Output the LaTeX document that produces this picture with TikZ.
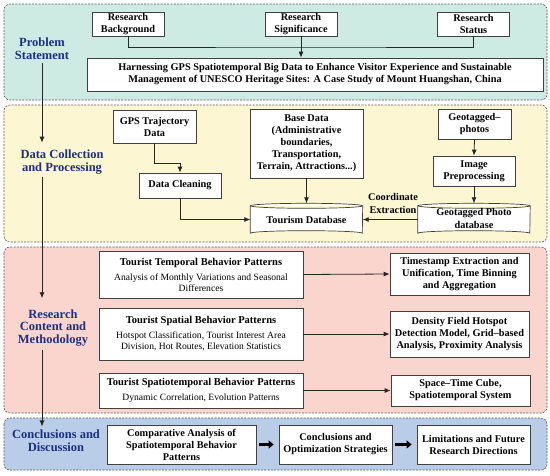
\documentclass[tikz,border=0pt]{standalone}
\usepackage{fontspec}
\setmainfont{Liberation Serif}
\usetikzlibrary{arrows.meta,calc}
\definecolor{tealbg}{RGB}{205,235,227}
\definecolor{yelbg}{RGB}{253,246,210}
\definecolor{pinkbg}{RGB}{250,213,205}
\definecolor{bluebg}{RGB}{186,205,232}
\definecolor{navy}{RGB}{28,48,128}
\pgfdeclarelayer{panels}
\pgfdeclarelayer{cyl}
\pgfsetlayers{panels,cyl,main}
\newcommand\dbcyl[1]{%
  \begin{pgfonlayer}{cyl}
  \draw[cylline] (#1.north west) -- (#1.south west)
     arc[start angle=180,end angle=0,x radius=56pt,y radius=2.5pt]
     -- (#1.north east)
     arc[start angle=0,end angle=-180,x radius=56pt,y radius=2.5pt] -- cycle;
  \draw[cylline] (#1.north west)
     arc[start angle=180,end angle=0,x radius=56pt,y radius=2.5pt];
  \end{pgfonlayer}}
\begin{document}
\begin{tikzpicture}[x=1pt,y=-1pt,
  panel/.style={draw=black!65, dash pattern=on 2pt off 1.3pt, line width=0.6pt, rounded corners=6pt},
  box/.style={draw=black!75, fill=white, line width=0.7pt, align=center, inner sep=1pt,
     font=\fontsize{10.3}{12}\selectfont\bfseries},
  pbox/.style={draw=black!75, fill=white, line width=0.7pt, align=center, inner sep=1pt,
     font=\fontsize{9.6}{11}\selectfont, minimum width=204pt},
  dbtext/.style={align=center, inner sep=0pt, minimum width=112pt, minimum height=27pt,
     font=\fontsize{10.3}{12.5}\selectfont\bfseries},
  cylline/.style={draw=black!75, fill=white, line width=0.7pt},
  lbl/.style={text=navy, font=\fontsize{12.5}{12.8}\selectfont\bfseries, align=center, inner sep=3pt},
  plain/.style={font=\fontsize{10.3}{12.8}\selectfont\bfseries, align=center, inner sep=1pt},
  ln/.style={line width=0.8pt, draw=black!85},
  arr/.style={ln, -{Latex[length=6pt,width=5pt]}},
  fat/.style={line width=3pt, draw=black, -{Triangle[length=5pt,width=8pt]}, shorten <=3pt, shorten >=5pt}
]
\useasboundingbox (0,0) rectangle (550,475);
\begin{pgfonlayer}{panels}
\draw[panel, fill=tealbg] (4,4) rectangle (547,100);
\draw[panel, fill=yelbg] (4,105) rectangle (547,242);
\draw[panel, fill=pinkbg] (4,247) rectangle (547,413);
\draw[panel, fill=bluebg] (4,418) rectangle (547,470);
\end{pgfonlayer}

% left labels
\node[lbl] (ps) at (42,49) {Problem\\Statement};
\node[lbl] (dc) at (62,162) {Data Collection\\and Processing};
\node[lbl] (rc) at (53,328) {Research\\Content and\\Methodology};
\node[lbl] (cd) at (56,440.5) {Conclusions and\\Discussion};
\draw[arr, shorten >=4pt] (ps.south) -- (dc.north -| ps.south);
\draw[arr, shorten >=8pt] (dc.south -| ps.south) -- (rc.north -| ps.south);
\draw[arr] (rc.south -| ps.south) -- (cd.north -| ps.south);

% problem statement
\node[box, minimum width=72pt, minimum height=24pt] (rb) at (128,24) {Research\\Background};
\node[box, minimum width=72pt, minimum height=24pt] (rs) at (301,24) {Research\\Significance};
\node[box, minimum width=72pt, minimum height=24pt] (rst) at (473.5,24) {Research\\Status};
\node[box, minimum width=456pt, minimum height=33pt] (main) at (315,74.5)
  {Harnessing GPS Spatiotemporal Big Data to Enhance Visitor Experience and Sustainable\\
   Management of UNESCO Heritage Sites: A Case Study of Mount Huangshan, China};
\coordinate (jn) at ($(rs.south)!0.5!(rs.south |- main.north)$);
\draw[ln] (rb.south) |- (jn) -| (rst.south);
\draw[arr] (rs.south) -- (rs.south |- main.north);

% data collection
\node[box, minimum width=83pt, minimum height=33pt] (gps) at (154.5,126.5) {GPS Trajectory\\Data};
\node[box, minimum width=82pt, minimum height=25pt] (dcl) at (180,185.5) {Data Cleaning};
\node[box, minimum width=113pt, minimum height=69pt] (base) at (306.5,143.5)
  {Base Data\\(Administrative\\boundaries,\\Transportation,\\Terrain, Attractions...)};
\node[box, minimum width=73pt, minimum height=30pt] (geo) at (474.5,124) {Geotagged–\\photos};
\node[box, minimum width=82pt, minimum height=30pt] (img) at (474,171) {Image\\Preprocessing};
\node[dbtext] (tdb) at (306.5,219.5) {Tourism Database};
\dbcyl{tdb}
\node[dbtext] (gdb) at (474,219.5)
  {\raisebox{-2.5pt}{\begin{tabular}{@{}c@{}}Geotagged Photo\\database\end{tabular}}};
\dbcyl{gdb}
\node[plain] (ce) at (393,203.5) {Coordinate\\Extraction};
\draw[arr] (gps.south) -- ++(0,20) -| (dcl.north);
\draw[arr] (dcl.south) |- (tdb.west);
\draw[arr] (base.south) -- ([yshift=2.5pt]tdb.north);
\draw[arr] (geo.south) -- (img.north);
\draw[arr] (img.south) -- ([yshift=2.5pt]gdb.north);
\draw[arr] (gdb.west) -- (tdb.east);

% research content
\node[pbox, minimum height=47pt] (tt) at (201,274.5)
  {\textbf{\fontsize{10.5}{12}\selectfont Tourist Temporal Behavior Patterns}\\[4pt]Analysis of Monthly Variations and Seasonal\\Differences};
\node[pbox, minimum height=52pt] (sp) at (201,334)
  {\textbf{\fontsize{10.5}{12}\selectfont Tourist Spatial Behavior Patterns}\\[4pt]Hotspot Classification, Tourist Interest Area\\Division, Hot Routes, Elevation Statistics};
\node[pbox, minimum height=35pt] (st) at (201,390.5)
  {\textbf{\fontsize{10.5}{12}\selectfont Tourist Spatiotemporal Behavior Patterns}\\[4pt]Dynamic Correlation, Evolution Patterns};
\node[box, minimum width=139pt, minimum height=42pt] (ts) at (459.5,274)
  {Timestamp Extraction and\\Unification, Time Binning\\and Aggregation};
\node[box, minimum width=139pt, minimum height=46pt] (dn) at (459.5,334)
  {Density Field Hotspot\\Detection Model, Grid–based\\Analysis, Proximity Analysis};
\node[box, minimum width=139pt, minimum height=31pt] (stc) at (460.5,390.5)
  {Space–Time Cube,\\Spatiotemporal System};
\draw[arr] (tt.east) -- (ts.west);
\draw[arr] (sp.east) -- (dn.west);
\draw[arr] (st.east) -- (stc.west);

% conclusions
\node[box, minimum width=149pt, minimum height=39pt] (cmp) at (181.5,444.5)
  {Comparative Analysis of\\Spatiotemporal Behavior\\Patterns};
\node[box, minimum width=113pt, minimum height=39pt] (coc) at (335.5,444.5)
  {Conclusions and\\Optimization Strategies};
\node[box, minimum width=113pt, minimum height=39pt] (lim) at (473.5,444.5)
  {Limitations and Future\\Research Directions};
\draw[fat] (cmp.east) -- (coc.west);
\draw[fat] (coc.east) -- (lim.west);
\end{tikzpicture}
\end{document}
